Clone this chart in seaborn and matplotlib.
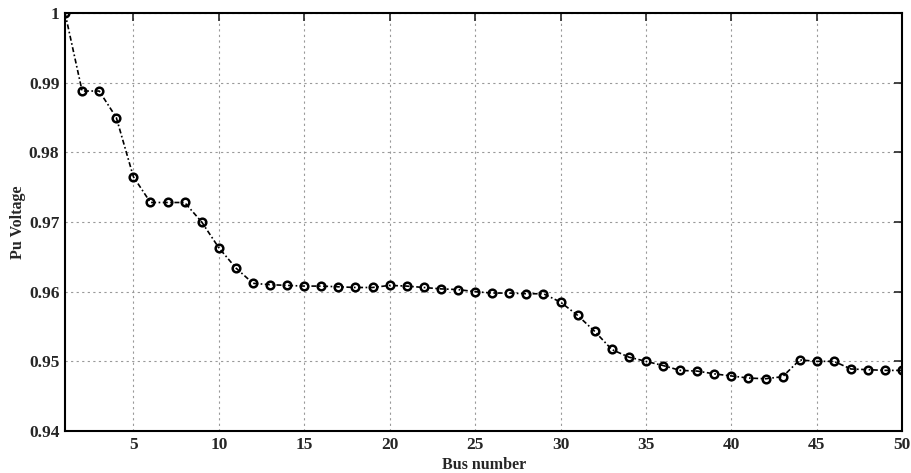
import numpy as np
import pandas as pd
import matplotlib
matplotlib.use("Agg")
import matplotlib.pyplot as plt
import seaborn as sns

bus = list(range(1, 51))
voltage = [1.0, 0.9888, 0.9888, 0.9850, 0.9765, 0.9728, 0.9728, 0.9728, 0.9700, 0.9663,
           0.9634, 0.9612, 0.9610, 0.9609, 0.9608, 0.9608, 0.9607, 0.9606, 0.9606, 0.9609,
           0.9608, 0.9606, 0.9604, 0.9603, 0.9600, 0.9598, 0.9598, 0.9597, 0.9597, 0.9585,
           0.9566, 0.9543, 0.9517, 0.9506, 0.9500, 0.9494, 0.9487, 0.9486, 0.9482, 0.9479,
           0.9476, 0.9475, 0.9478, 0.9502, 0.9500, 0.9500, 0.9489, 0.9488, 0.9487, 0.9487]
xticks = [5, 10, 15, 20, 25, 30, 35, 40, 45, 50]
yticks = [0.94, 0.95, 0.96, 0.97, 0.98, 0.99, 1.0]
ytick_labels = ["0.94", "0.95", "0.96", "0.97", "0.98", "0.99", "1"]

df = pd.DataFrame({"Bus number": bus, "Pu Voltage": voltage})

sns.set_style("white")
plt.rcParams["font.family"] = ["Liberation Serif", "DejaVu Serif"]
plt.rcParams["font.weight"] = "bold"

fig = plt.figure(figsize=(9.12, 4.73), dpi=100)
ax = fig.add_axes([0.0713, 0.0888, 0.918, 0.8837])

sns.lineplot(data=df, x="Bus number", y="Pu Voltage", ax=ax, color="black",
             linestyle=(0, (3, 1.5, 1, 1.5)), linewidth=1.2, marker="o", markersize=5.5,
             markerfacecolor="none", markeredgecolor="black", markeredgewidth=1.8)

ax.set_xlim(1, 50)
ax.set_ylim(0.94, 1.0)
ax.set_xticks(xticks)
ax.set_yticks(yticks)
ax.set_yticklabels(ytick_labels)
ax.grid(True, color="#999999", linestyle=(0, (2, 3)), linewidth=0.8)
ax.tick_params(direction="in", length=6, width=1.2, top=True, right=True,
               labelsize=12.5, pad=4)
for lab in ax.get_xticklabels() + ax.get_yticklabels():
    lab.set_fontweight("bold")
for s in ax.spines.values():
    s.set_linewidth(1.5)
    s.set_color("black")
ax.set_xlabel("Bus number", fontsize=11.5, fontweight="bold", labelpad=3)
ax.set_ylabel("Pu Voltage", fontsize=11.5, fontweight="bold", labelpad=2)

fig.savefig("out.png", dpi=100)
